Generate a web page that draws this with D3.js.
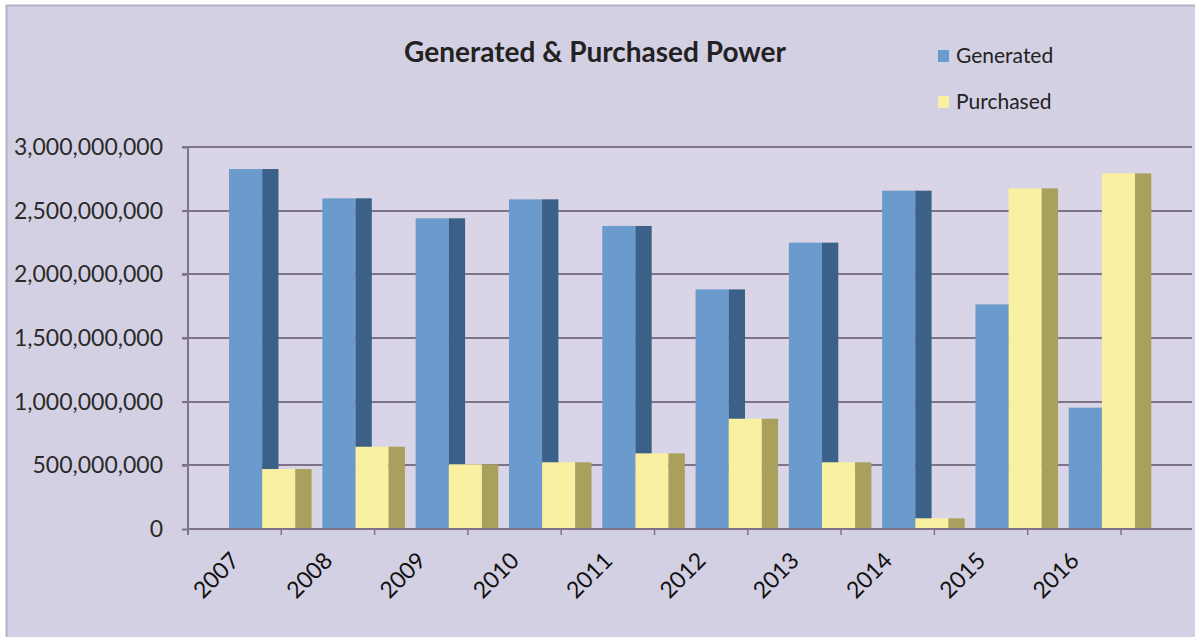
<!DOCTYPE html>
<html>
<head>
<meta charset="utf-8">
<script src="https://cdn.jsdelivr.net/npm/d3@7"></script>
<style>
  html,body{margin:0;padding:0;background:#fff;}
  svg{display:block;}
</style>
</head>
<body>
<svg id="chart" width="1195" height="637"></svg>
<script>
// generated vs purchased power, 2007-2016 (kWh)
const YEARS=["2007","2008","2009","2010","2011","2012","2013","2014","2015","2016"];
const GENERATED=[2827e6,2597e6,2440e6,2589e6,2380e6,1882e6,2249e6,2657e6,1764e6,953e6];
const PURCHASED=[471e6,646e6,508e6,524e6,594e6,866e6,524e6,84e6,2675e6,2793e6];
const Y_TICKS=[0,500e6,1000e6,1500e6,2000e6,2500e6,3000e6];
const SERIES=["Generated","Purchased"];

const W=1195,H=637;
const FONT="Lato, 'Open Sans', sans-serif";
const BG="#d4d0e3", GRID="#7f7389", TXT="#2a2a2a";
const COL={
  Generated:{front:"#6b9bcc",side:"#3b6189"},
  Purchased:{front:"#f9f0a2",side:"#a9a05e"}
};

const svg=d3.select("#chart");

// frame
svg.append("rect").attr("x",6).attr("y",5).attr("width",W-6).attr("height",H-5).attr("fill",BG);
svg.append("line").attr("x1",6.5).attr("x2",6.5).attr("y1",5).attr("y2",H)
  .attr("stroke","#b6b0c4").attr("stroke-width",2);
svg.append("line").attr("x1",6).attr("x2",W).attr("y1",5.5).attr("y2",5.5)
  .attr("stroke","#b6b0c4").attr("stroke-width",2);

const X0=188, X1=1121, XEND=1192, Y0=529, Y1=147;

const x=d3.scaleBand().domain(YEARS).range([X0,X1]).padding(0);
const y=d3.scaleLinear().domain([0,3e9]).range([Y0,Y1]);

// plot wall
svg.append("rect").attr("x",X0).attr("y",Y1).attr("width",XEND-X0).attr("height",Y0-Y1)
  .attr("fill","#d9d5e7");

// gridlines
svg.append("g").selectAll("line").data(Y_TICKS.slice(1)).join("line")
  .attr("x1",X0-6).attr("x2",XEND)
  .attr("y1",d=>Math.round(y(d))).attr("y2",d=>Math.round(y(d)))
  .attr("stroke",GRID).attr("stroke-width",2);

// y axis
const yAxis=svg.append("g").attr("transform",`translate(${X0},0)`)
  .call(d3.axisLeft(y).tickValues(Y_TICKS).tickSize(6).tickPadding(19)
    .tickFormat(d=>d===0?"0":d3.format(",")(d)));
yAxis.select(".domain").attr("stroke",GRID).attr("stroke-width",2).attr("d",`M0,${Y1}V${Y0+6}`);
yAxis.selectAll("line").attr("stroke",GRID).attr("stroke-width",2);
yAxis.selectAll("text").attr("fill",TXT).style("font-size","23px").style("font-family",FONT);

// bars -- front face + darker side face, purchased drawn over generated's side
const bw=x.bandwidth();
const frontW=bw*0.355, sideW=bw*0.175, off=bw*0.44;
const rows=YEARS.map((yr,i)=>({yr,Generated:GENERATED[i],Purchased:PURCHASED[i]}));

SERIES.forEach((s,si)=>{
  const g=svg.append("g");
  const bx=d=>x(d.yr)+off+si*frontW;
  g.selectAll("rect.front").data(rows).join("rect").attr("class","front")
    .attr("x",bx).attr("y",d=>y(d[s])).attr("width",frontW).attr("height",d=>Y0-y(d[s]))
    .attr("fill",COL[s].front);
  g.selectAll("rect.side").data(rows).join("rect").attr("class","side")
    .attr("x",d=>bx(d)+frontW).attr("y",d=>y(d[s])).attr("width",sideW).attr("height",d=>Y0-y(d[s]))
    .attr("fill",COL[s].side);
});

// x axis
const xAxis=svg.append("g").attr("transform",`translate(0,${Y0})`);
xAxis.append("line").attr("x1",X0).attr("x2",XEND).attr("y1",0).attr("y2",0)
  .attr("stroke",GRID).attr("stroke-width",2);
xAxis.selectAll("line.tk").data(d3.range(YEARS.length+1)).join("line").attr("class","tk")
  .attr("x1",i=>X0+i*bw).attr("x2",i=>X0+i*bw).attr("y1",0).attr("y2",6)
  .attr("stroke",GRID).attr("stroke-width",1.5);
xAxis.selectAll("text").data(YEARS).join("text")
  .attr("transform",d=>`translate(${x(d)+bw/2+6},${33}) rotate(-45)`)
  .attr("text-anchor","end").attr("fill","#111")
  .style("font-size","23px").style("font-family",FONT)
  .text(d=>d);

// title
svg.append("text").attr("x",595).attr("y",62).attr("text-anchor","middle")
  .attr("fill","#222").style("font-size","28px").style("font-weight","700")
  .style("font-family",FONT).text("Generated & Purchased Power");

// legend
const lg=svg.append("g").attr("transform","translate(938,0)");
SERIES.forEach((s,i)=>{
  const cy=56+i*46;
  lg.append("rect").attr("x",0).attr("y",cy-6).attr("width",11).attr("height",12)
    .attr("fill",COL[s].front);
  lg.append("text").attr("x",18).attr("y",cy+7).attr("fill","#222")
    .style("font-size","21px").style("font-family",FONT).text(s);
});
</script>
</body>
</html>
